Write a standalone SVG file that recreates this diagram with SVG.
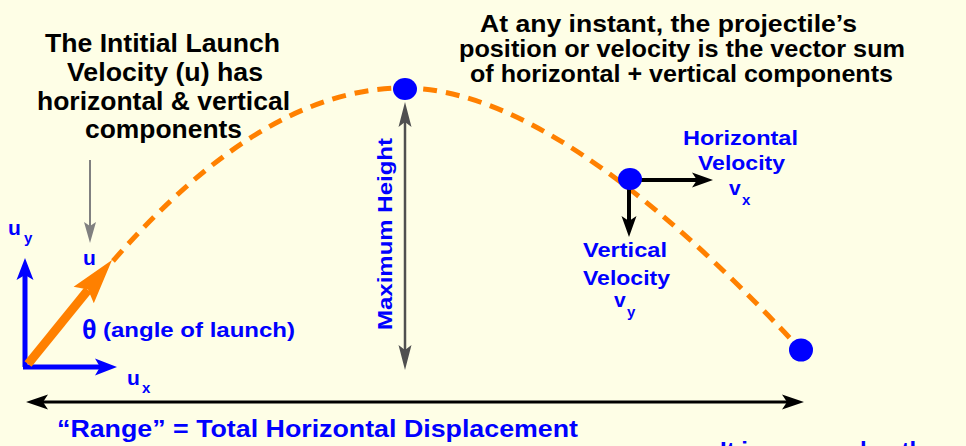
<svg xmlns="http://www.w3.org/2000/svg" width="966" height="446" viewBox="0 0 966 446">
<defs>
<style>
.bk{font-family:"Liberation Sans",Arial,sans-serif;font-weight:bold;fill:#000}
.bl{font-family:"Liberation Sans",Arial,sans-serif;font-weight:bold;fill:#0000FF}
.traj{fill:none;stroke:#FF8000;stroke-width:5;stroke-dasharray:14 9}
.dot{fill:#0000FF}
</style>
<marker id="hBlue" markerUnits="userSpaceOnUse" viewBox="0 -9 22 18" markerWidth="22" markerHeight="18" refX="9" refY="0" orient="auto"><path d="M0,-8.5 L22,0 L0,8.5 L5,0 Z" fill="#0000FF"/></marker>
<marker id="hBlack" markerUnits="userSpaceOnUse" viewBox="0 -8 21 16" markerWidth="21" markerHeight="16" refX="9" refY="0" orient="auto"><path d="M0,-7.5 L21,0 L0,7.5 L5,0 Z" fill="#000"/></marker>
<marker id="hDark" markerUnits="userSpaceOnUse" viewBox="0 -7 25 14" markerWidth="25" markerHeight="14" refX="10" refY="0" orient="auto-start-reverse"><path d="M0,-6.5 L25,0 L0,6.5 L5,0 Z" fill="#505050"/></marker>
<marker id="hBlackR" markerUnits="userSpaceOnUse" viewBox="0 -8 22 16" markerWidth="22" markerHeight="16" refX="9" refY="0" orient="auto-start-reverse"><path d="M0,-7.5 L22,0 L0,7.5 L5,0 Z" fill="#000"/></marker>
<marker id="hGrey" markerUnits="userSpaceOnUse" viewBox="0 -7 21 14" markerWidth="21" markerHeight="14" refX="8" refY="0" orient="auto"><path d="M0,-6 L21,0 L0,6 L4,0 Z" fill="#808080"/></marker>
</defs>
<rect width="966" height="446" fill="#FEFEE6"/>

<g id="connectors">
<path id="trajectory" class="traj" d="M113,261 Q264,88 404,88 Q558,88 801,350"/>
<line x1="90" y1="160" x2="90" y2="230" stroke="#808080" stroke-width="2" marker-end="url(#hGrey)"/>
<line x1="25" y1="367" x2="25" y2="271" stroke="#0000FF" stroke-width="5" marker-end="url(#hBlue)"/>
<line x1="23" y1="367" x2="104" y2="367" stroke="#0000FF" stroke-width="5" marker-end="url(#hBlue)"/>
<line x1="28" y1="364" x2="88" y2="290" stroke="#FF8000" stroke-width="9"/>
<polygon points="112,260 93.8,303.2 88,289.6 73.6,286.8" fill="#FF8000"/>
<line x1="405" y1="117" x2="405" y2="355" stroke="#505050" stroke-width="2.5" marker-start="url(#hDark)" marker-end="url(#hDark)"/>
<line x1="39" y1="402" x2="791" y2="402" stroke="#000" stroke-width="3" marker-start="url(#hBlackR)" marker-end="url(#hBlackR)"/>
<line x1="627" y1="180" x2="701" y2="180" stroke="#000" stroke-width="4" marker-end="url(#hBlack)"/>
<line x1="629" y1="178" x2="629" y2="225" stroke="#000" stroke-width="4" marker-end="url(#hBlack)"/>
</g>

<g id="peak"><ellipse class="dot" cx="405" cy="89" rx="12" ry="11"/></g>
<g id="point"><ellipse class="dot" cx="630" cy="179" rx="12" ry="11"/></g>
<g id="landing"><ellipse class="dot" cx="801" cy="350" rx="12" ry="11.5"/></g>

<g id="launch-note">
<text class="bk" font-size="26" x="45" y="52" textLength="235" lengthAdjust="spacingAndGlyphs">The Intitial Launch</text>
<text class="bk" font-size="26" x="67" y="81" textLength="196" lengthAdjust="spacingAndGlyphs">Velocity (u) has</text>
<text class="bk" font-size="26" x="37" y="110" textLength="253" lengthAdjust="spacingAndGlyphs">horizontal &amp; vertical</text>
<text class="bk" font-size="26" x="85" y="138" textLength="157" lengthAdjust="spacingAndGlyphs">components</text>
</g>

<g id="instant-note">
<text class="bk" font-size="24" x="480" y="32" textLength="377" lengthAdjust="spacingAndGlyphs">At any instant, the projectile’s</text>
<text class="bk" font-size="24" x="459" y="57" textLength="446" lengthAdjust="spacingAndGlyphs">position or velocity is the vector sum</text>
<text class="bk" font-size="24" x="470" y="82" textLength="423" lengthAdjust="spacingAndGlyphs">of horizontal + vertical components</text>
</g>

<g id="labels">
<text class="bl" font-size="21" x="8" y="235">u</text>
<text class="bl" font-size="15" x="24" y="243">y</text>
<text class="bl" font-size="21" x="83" y="265">u</text>
<text class="bl" font-size="21" x="127" y="385">u</text>
<text class="bl" font-size="15" x="142" y="393">x</text>
<text class="bl" font-size="27" x="82" y="339" font-family="'DejaVu Sans',sans-serif">θ</text>
<text class="bl" font-size="20" x="103" y="337" textLength="192" lengthAdjust="spacingAndGlyphs">(angle of launch)</text>
<text class="bl" font-size="20" transform="translate(392,234) rotate(-90)" text-anchor="middle" textLength="192" lengthAdjust="spacingAndGlyphs">Maximum Height</text>
<text class="bl" font-size="21" x="683" y="145" textLength="115" lengthAdjust="spacingAndGlyphs">Horizontal</text>
<text class="bl" font-size="21" x="698" y="170" textLength="87" lengthAdjust="spacingAndGlyphs">Velocity</text>
<text class="bl" font-size="21" x="729" y="195">v</text>
<text class="bl" font-size="15" x="742" y="205">x</text>
<text class="bl" font-size="21" x="583" y="257" textLength="84" lengthAdjust="spacingAndGlyphs">Vertical</text>
<text class="bl" font-size="21" x="583" y="285" textLength="87" lengthAdjust="spacingAndGlyphs">Velocity</text>
<text class="bl" font-size="21" x="614" y="307">v</text>
<text class="bl" font-size="15" x="627" y="317">y</text>
<text class="bl" font-size="24" x="57" y="437" textLength="521" lengthAdjust="spacingAndGlyphs">“Range” = Total Horizontal Displacement</text>
<text class="bl" font-size="24" x="720" y="459">It is a curved path</text>
</g>
</svg>
